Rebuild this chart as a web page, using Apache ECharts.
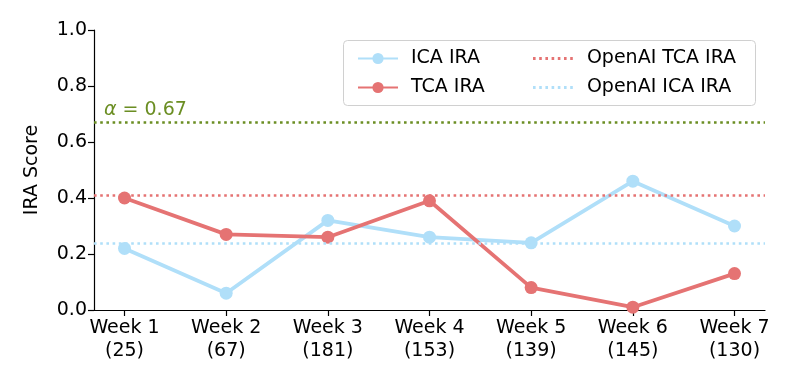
<!DOCTYPE html>
<html>
<head>
<meta charset="utf-8">
<script src="https://cdn.jsdelivr.net/npm/echarts@6/dist/echarts.min.js"></script>
<style>
html,body{margin:0;padding:0;background:#fff;}
#chart{width:797px;height:389px;}
</style>
</head>
<body>
<div id="chart"></div>
<script>
const weeks = ['Week 1','Week 2','Week 3','Week 4','Week 5','Week 6','Week 7'];
const counts = [25, 67, 181, 153, 139, 145, 130];
const icaIRA = [0.22, 0.06, 0.32, 0.26, 0.24, 0.46, 0.30];
const tcaIRA = [0.40, 0.27, 0.26, 0.39, 0.08, 0.01, 0.13];
const openaiTCA = 0.41;
const openaiICA = 0.24;
const alphaValue = 0.67;
const yTicks = [0, 0.2, 0.4, 0.6, 0.8, 1.0];

const BLUE = '#b0dff9';
const RED = '#e57373';
const GREEN = '#6b8e23';
const FONT = 'DejaVu Sans';
const FS = 19;

const xIdx = weeks.map((w, i) => i);
const dottedIcon = 'path://M0,0h2.6v3h-2.6z M6.2,0h2.6v3h-2.6z M12.4,0h2.6v3h-2.6z M18.6,0h2.6v3h-2.6z M24.8,0h2.6v3h-2.6z M31,0h2.6v3h-2.6z M37.2,0h2.6v3h-2.6z';
const chart = echarts.init(document.getElementById('chart'), null, {renderer: 'canvas'});

const option = {
  animation: false,
  textStyle: {fontFamily: FONT, color: '#000'},
  grid: {left: 94, right: 32, top: 30, bottom: 79, containLabel: false},
  graphic: [{
    type: 'rect', left: 343, top: 40, z: 5,
    shape: {width: 412, height: 65, r: 4},
    style: {fill: 'rgba(255,255,255,0.8)', stroke: '#d0d0d0', lineWidth: 1}
  }],
  legend: [{
    orient: 'vertical', left: 352, top: 44, itemGap: 10, z: 10,
    itemWidth: 40, itemHeight: 14,
    textStyle: {fontFamily: FONT, fontSize: FS, color: '#000', padding: [0,0,0,8]},
    data: ['ICA IRA', 'TCA IRA']
  }, {
    orient: 'vertical', left: 528, top: 44, itemGap: 10, z: 10,
    itemWidth: 40, itemHeight: 3,
    textStyle: {fontFamily: FONT, fontSize: FS, color: '#000', padding: [0,0,0,9]},
    data: [{name: 'OpenAI TCA IRA', icon: dottedIcon}, {name: 'OpenAI ICA IRA', icon: dottedIcon}]
  }],
  xAxis: {
    type: 'value', min: -0.3, max: 6.3,
    splitLine: {show: false},
    axisLine: {show: true, onZero: false, lineStyle: {color: '#000', width: 1.2}},
    axisTick: {show: true, length: 6, inside: false, customValues: xIdx, lineStyle: {color: '#000', width: 1.2}},
    axisLabel: {
      customValues: xIdx, margin: 7, fontFamily: FONT, fontSize: FS, color: '#000', lineHeight: 23,
      formatter: v => { const i = Math.round(v); return weeks[i] + '\n(' + counts[i] + ')'; }
    }
  },
  yAxis: {
    type: 'value', min: 0, max: 1, interval: 0.2,
    name: 'IRA Score', nameLocation: 'middle', nameGap: 52,
    nameTextStyle: {fontFamily: FONT, fontSize: FS, color: '#000'},
    splitLine: {show: false},
    axisLine: {show: true, onZero: false, lineStyle: {color: '#000', width: 1.2}},
    axisTick: {show: true, length: 6, lineStyle: {color: '#000', width: 1.2}},
    axisLabel: {
      margin: 7, fontFamily: FONT, fontSize: FS, color: '#000',
      customValues: yTicks,
      formatter: v => v.toFixed(1)
    }
  },
  series: [{
    name: 'alpha', type: 'line', data: [], symbol: 'none', silent: true,
    markLine: {
      silent: true, symbol: 'none',
      lineStyle: {color: GREEN, width: 2.6, type: [2.6, 3.6]},
      label: {position: 'insideStartTop', formatter: '{a|α} = 0.67', color: GREEN, fontFamily: FONT, fontSize: FS, distance: [10, 3],
        rich: {a: {fontStyle: 'italic', fontFamily: FONT, fontSize: FS, color: GREEN}}},
      data: [{yAxis: alphaValue}]
    }
  }, {
    name: 'OpenAI TCA IRA', type: 'line', data: [], symbol: 'none', showSymbol: false,
    lineStyle: {color: RED, width: 2.6, type: [2.6, 3.6]},
    itemStyle: {color: RED},
    markLine: {
      silent: true, symbol: 'none', label: {show: false},
      lineStyle: {color: RED, width: 2.6, type: [2.6, 3.6]},
      data: [{yAxis: openaiTCA}]
    }
  }, {
    name: 'OpenAI ICA IRA', type: 'line', data: [], symbol: 'none', showSymbol: false,
    lineStyle: {color: BLUE, width: 2.6, type: [2.6, 3.6]},
    itemStyle: {color: BLUE},
    markLine: {
      silent: true, symbol: 'none', label: {show: false},
      lineStyle: {color: BLUE, width: 2.6, type: [2.6, 3.6]},
      data: [{yAxis: openaiICA}]
    }
  }, {
    name: 'ICA IRA', type: 'line', symbol: 'circle', symbolSize: 13,
    data: icaIRA.map((v, i) => [i, v]),
    lineStyle: {color: BLUE, width: 3.8},
    itemStyle: {color: BLUE},
    z: 3
  }, {
    name: 'TCA IRA', type: 'line', symbol: 'circle', symbolSize: 13,
    data: tcaIRA.map((v, i) => [i, v]),
    lineStyle: {color: RED, width: 3.8},
    itemStyle: {color: RED},
    z: 4
  }]
};
chart.setOption(option);
</script>
</body>
</html>
